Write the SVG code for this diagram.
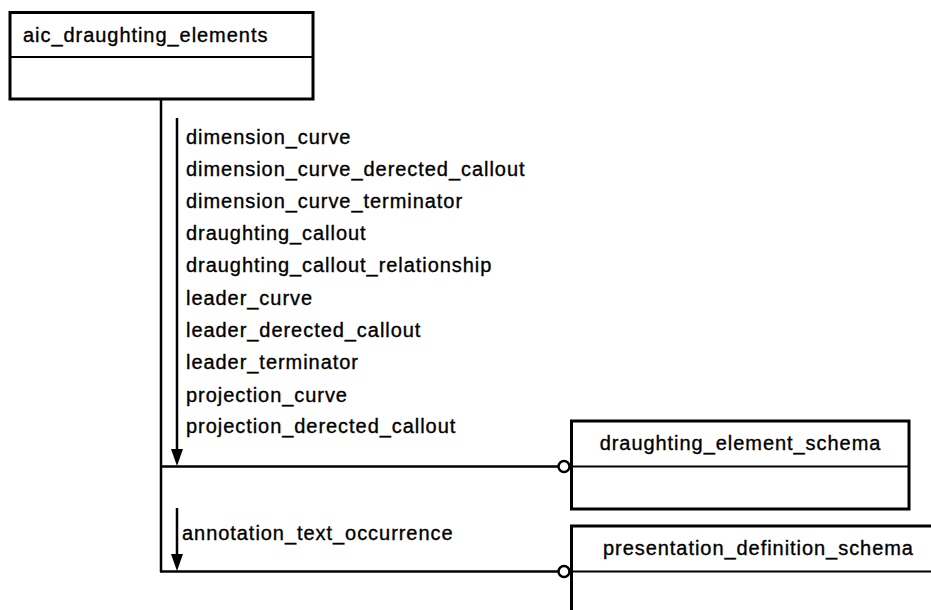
<svg xmlns="http://www.w3.org/2000/svg" width="931" height="610" viewBox="0 0 931 610">
<style>
.box{fill:#fff;stroke:#000;stroke-width:3}
.div{stroke:#000;stroke-width:2.2}
.ln{stroke:#000;stroke-width:2.5;fill:none}
.lb{font-family:"Liberation Sans",Arial,sans-serif;font-size:20px;letter-spacing:0.95px;fill:#000;stroke:#000;stroke-width:0.35px}
.ring{fill:#fff;stroke:#000;stroke-width:2.5}
</style>
<g id="connectors">
<line class="ln" x1="161" y1="99" x2="161" y2="572"/>
<line class="ln" x1="160" y1="466.5" x2="558" y2="466.5"/>
<line class="ln" x1="160" y1="571.5" x2="558" y2="571.5"/>
<line class="ln" x1="177" y1="118" x2="177" y2="452"/>
<polygon points="171,449 183,449 177,466" fill="#000"/>
<line class="ln" x1="177" y1="508" x2="177" y2="557"/>
<polygon points="171,554 183,554 177,571" fill="#000"/>
<circle class="ring" cx="564" cy="466.5" r="5.5"/>
<circle class="ring" cx="564" cy="571.5" r="5.5"/>
<g class="lb">
<text x="186" y="143.5">dimension_curve</text>
<text x="186" y="176">dimension_curve_derected_callout</text>
<text x="186" y="208">dimension_curve_terminator</text>
<text x="186" y="240">draughting_callout</text>
<text x="186" y="272">draughting_callout_relationship</text>
<text x="186" y="305">leader_curve</text>
<text x="186" y="337">leader_derected_callout</text>
<text x="186" y="369">leader_terminator</text>
<text x="186" y="402">projection_curve</text>
<text x="186" y="433">projection_derected_callout</text>
<text x="182" y="539.5">annotation_text_occurrence</text>
</g>
</g>
<g id="aic_draughting_elements">
<rect class="box" x="10" y="12.5" width="303" height="86.5"/>
<line class="div" x1="10" y1="57" x2="313" y2="57"/>
<text class="lb" x="23" y="41.5">aic_draughting_elements</text>
</g>
<g id="draughting_element_schema">
<rect class="box" x="571.5" y="421" width="337.5" height="88"/>
<line class="div" x1="571.5" y1="466.5" x2="909" y2="466.5"/>
<text class="lb" x="740.5" y="449.5" text-anchor="middle">draughting_element_schema</text>
</g>
<g id="presentation_definition_schema">
<rect class="box" x="571.5" y="526" width="400" height="120"/>
<line class="div" x1="571.5" y1="571.5" x2="931" y2="571.5"/>
<text class="lb" x="603" y="554.5">presentation_definition_schema</text>
</g>
</svg>
